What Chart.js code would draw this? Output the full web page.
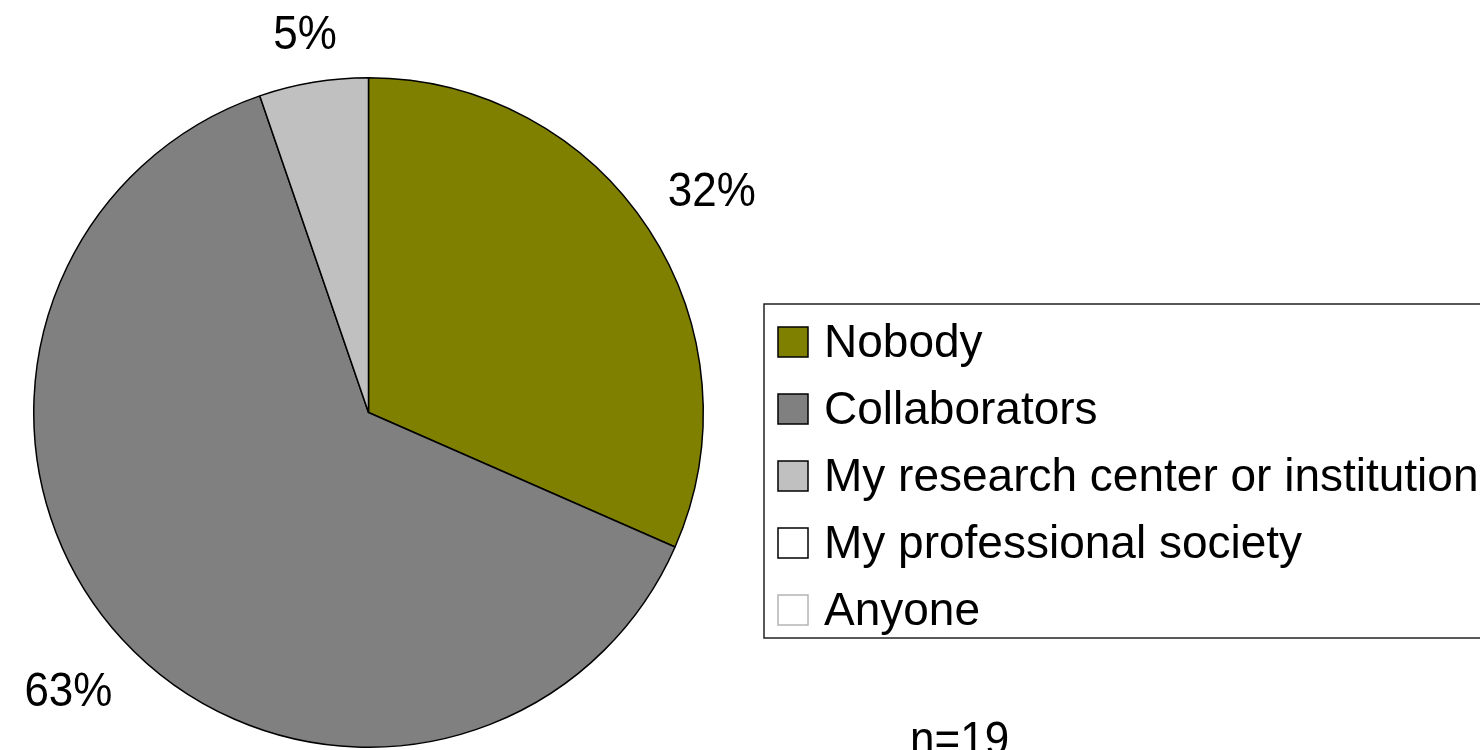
<!DOCTYPE html>
<html>
<head>
<meta charset="utf-8">
<title>Who can access your data</title>
<script src="https://cdn.jsdelivr.net/npm/chart.js@4"></script>
<style>
  html, body { margin: 0; padding: 0; background: #fff; }
  #wrap { width: 1480px; height: 750px; position: relative; }
</style>
</head>
<body>
<div id="wrap"><canvas id="pieChart"></canvas></div>
<script>
// Survey answers (n = sum of responses)
const categories = ['Nobody', 'Collaborators', 'My research center or institution', 'My professional society', 'Anyone'];
const responses = [6, 12, 1, 0, 0];
const sliceColors = ['#808000', '#808080', '#c0c0c0', '#ffffff', '#ffffff'];
const swatchBorders = ['#000000', '#000000', '#000000', '#000000', '#b4b4b4'];

const LABEL_FONT = '44px "Liberation Sans", Arial, sans-serif';
const LEGEND_FONT = '46px "Liberation Sans", Arial, sans-serif';
const STRETCH = 1.1;          // text is drawn a little taller than wide
const CAP = 31.5 * STRETCH;   // cap height of the label font

// draw text slightly stretched vertically, baseline at (x, y)
function tallText(ctx, text, x, y) {
    ctx.save();
    ctx.translate(x, y);
    ctx.scale(1, STRETCH);
    ctx.fillText(text, 0, 0);
    ctx.restore();
}

// percentage labels around the outside of the pie
const outsideLabels = {
    id: 'outsideLabels',
    afterDatasetsDraw(chart) {
        const ctx = chart.ctx;
        const values = chart.data.datasets[0].data;
        const total = values.reduce((a, b) => a + b, 0);
        const meta = chart.getDatasetMeta(0);
        ctx.save();
        ctx.font = LABEL_FONT;
        ctx.fillStyle = '#000';
        ctx.textAlign = 'center';
        ctx.textBaseline = 'alphabetic';
        meta.data.forEach((arc, i) => {
            if (!values[i]) return;
            const p = arc.getProps(['x', 'y', 'startAngle', 'endAngle', 'outerRadius'], true);
            const mid = (p.startAngle + p.endAngle) / 2;
            const dx = Math.cos(mid), dy = Math.sin(mid);
            const text = Math.round(values[i] / total * 100) + '%';
            const w = ctx.measureText(text).width;
            const ext = Math.abs(dx) * w / 2 + Math.abs(dy) * CAP / 2;
            const r = p.outerRadius + 29 + ext;
            tallText(ctx, text, p.x + dx * r, p.y + dy * r + CAP / 2);
        });
        ctx.restore();
    }
};

// boxed legend on the right plus the sample size note
const boxLegend = {
    id: 'boxLegend',
    afterDraw(chart) {
        const ctx = chart.ctx;
        const ds = chart.data.datasets[0];
        const total = ds.data.reduce((a, b) => a + b, 0);
        ctx.save();
        ctx.lineWidth = 1.5;
        ctx.strokeStyle = '#222';
        ctx.strokeRect(764, 304, 760, 334);
        ctx.textBaseline = 'alphabetic';
        ctx.textAlign = 'left';
        chart.data.labels.forEach((label, i) => {
            const top = 327 + i * 67;
            ctx.fillStyle = ds.backgroundColor[i];
            ctx.fillRect(778, top, 30, 30);
            ctx.strokeStyle = swatchBorders[i];
            ctx.lineWidth = 1.5;
            ctx.strokeRect(778, top, 30, 30);
            ctx.fillStyle = '#000';
            ctx.font = LEGEND_FONT;
            ctx.fillText(label, 824, top + 30);
        });
        ctx.font = LABEL_FONT;
        tallText(ctx, 'n=' + total, 910, 755);
        ctx.restore();
    }
};

new Chart(document.getElementById('pieChart'), {
    type: 'pie',
    data: {
        labels: categories,
        datasets: [{
            data: responses,
            backgroundColor: sliceColors,
            borderColor: '#000',
            borderWidth: 1.5,
            hoverOffset: 0
        }]
    },
    options: {
        responsive: true,
        maintainAspectRatio: false,
        animation: false,
        events: [],
        layout: { padding: { left: 33, top: 77, right: 776, bottom: 2 } },
        plugins: {
            legend: { display: false },
            tooltip: { enabled: false }
        }
    },
    plugins: [outsideLabels, boxLegend]
});
</script>
</body>
</html>
